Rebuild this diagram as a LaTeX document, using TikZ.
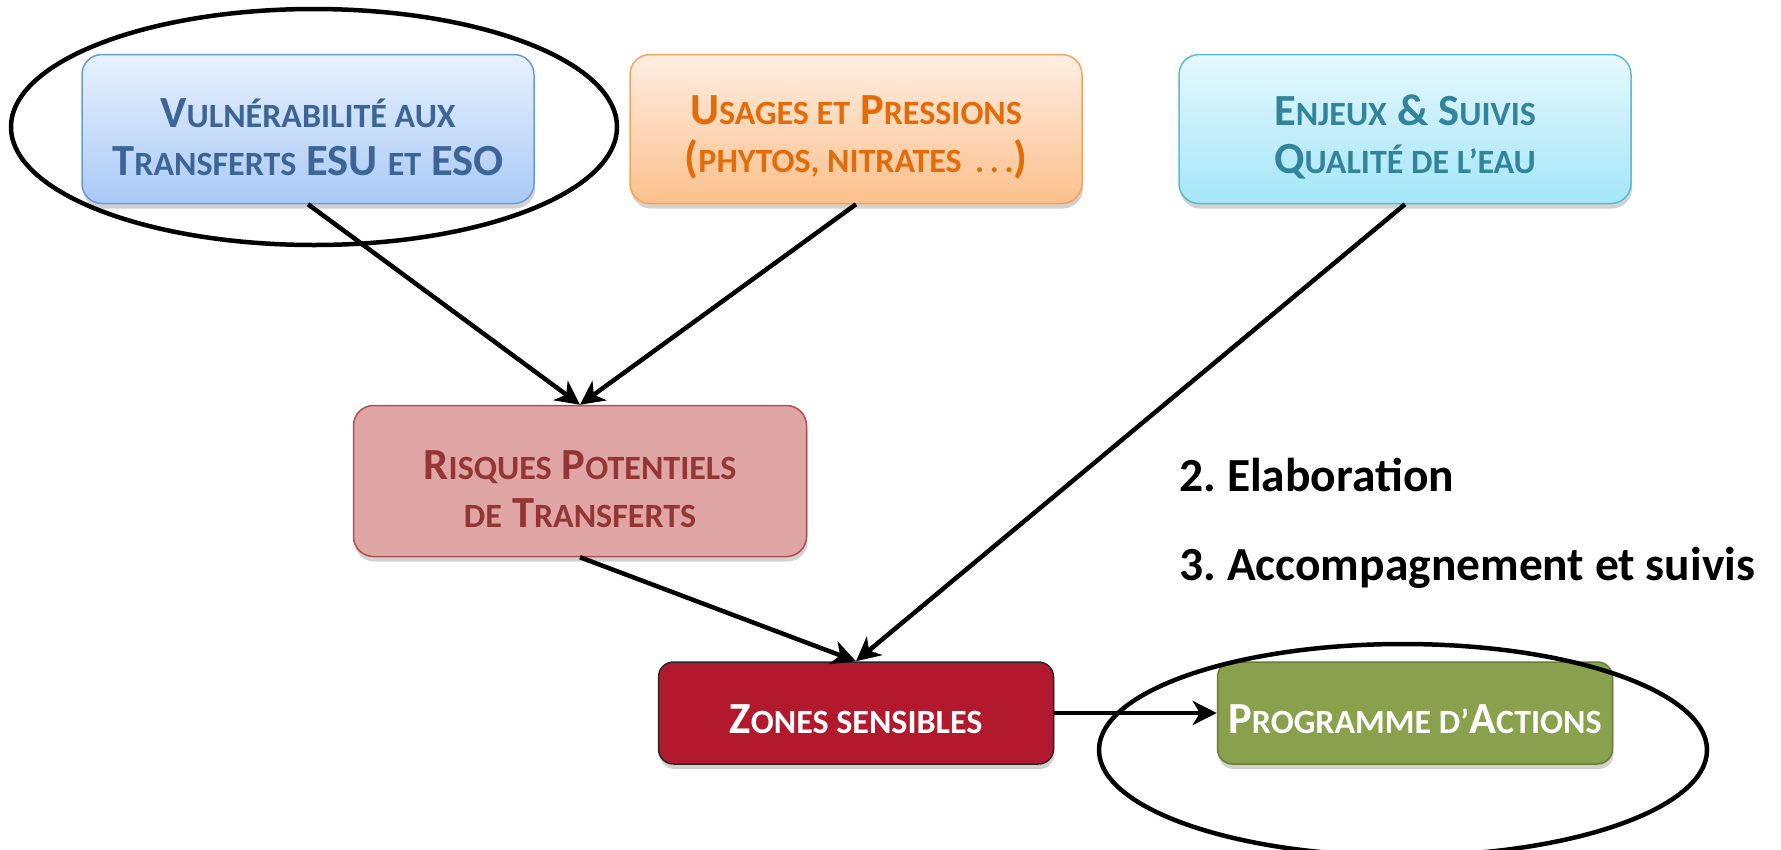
\documentclass[tikz,border=0pt]{standalone}
\usepackage{fontspec}
\setmainfont{Carlito}
\usetikzlibrary{arrows.meta,shadows,shapes.geometric}
\frenchspacing
\definecolor{bTop}{HTML}{E8F1FE}\definecolor{bBot}{HTML}{A9CAF7}\definecolor{bBrd}{HTML}{6A9BD6}\definecolor{bTxt}{HTML}{3C6495}
\definecolor{oTop}{HTML}{FEEEE2}\definecolor{oBot}{HTML}{FBC08C}\definecolor{oBrd}{HTML}{F5A55A}\definecolor{oTxt}{HTML}{E36C09}
\definecolor{cTop}{HTML}{E6F8FE}\definecolor{cBot}{HTML}{A4E6F8}\definecolor{cBrd}{HTML}{5DBAD3}\definecolor{cTxt}{HTML}{31849B}
\definecolor{pFil}{HTML}{E0A6A5}\definecolor{pBrd}{HTML}{B0504D}\definecolor{pTxt}{HTML}{943634}
\definecolor{rFil}{HTML}{B3192D}
\definecolor{gFil}{HTML}{89A14C}\definecolor{gBrd}{HTML}{6A7D38}
\newcommand\Bg[1]{{\fontsize{44.5}{48}\selectfont #1}}
\newcommand\Sm[1]{{\fontsize{34}{48}\selectfont #1}}
\tikzset{
  box/.style={rectangle, rounded corners=20pt, line width=1.5pt, inner sep=0pt,
    drop shadow={opacity=0.35, shadow xshift=1pt, shadow yshift=-5pt}},
  bigbox/.style={box, minimum width=452pt, minimum height=149pt},
  smallbox/.style={box, rounded corners=15pt, minimum width=395pt, minimum height=102pt},
  label/.style={align=center, inner sep=0pt, font=\bfseries\fontsize{44.5}{48}\selectfont},
  arr/.style={line width=4.5pt, -{Stealth[length=24pt,width=24pt,inset=7pt]}},
  ring/.style={ellipse, draw, line width=4.5pt, inner sep=0pt},
  side/.style={anchor=west, font=\bfseries\fontsize{47.5}{55}\selectfont}
}
\begin{document}
\begin{tikzpicture}[x=1pt,y=-1pt]
\useasboundingbox (0,0) rectangle (1781,849);
\fill[white] (0,0) rectangle (1781,849);
% boxes
\node[bigbox, top color=bTop, bottom color=bBot, draw=bBrd] (v) at (308,129) {};
\node[bigbox, top color=oTop, bottom color=oBot, draw=oBrd] (u) at (856,129) {};
\node[bigbox, top color=cTop, bottom color=cBot, draw=cBrd] (e) at (1405,129) {};
\node[bigbox, fill=pFil, draw=pBrd, minimum width=453pt, minimum height=151pt] (r) at (580,481) {};
\node[smallbox, fill=rFil, draw=black!85] (z) at (856,713) {};
\node[smallbox, fill=gFil, draw=gBrd] (p) at (1415,713) {};
% box texts
\node[label, text=bTxt] (vt) at ([yshift=-8pt]v.center)
  {\Bg{V}\Sm{ULNÉRABILITÉ AUX}\\ \Bg{T}\Sm{RANSFERTS} \Bg{ESU} \Sm{ET} \Bg{ESO}};
\node[label, text=oTxt] (ut) at ([yshift=-8pt]u.center)
  {\Bg{U}\Sm{SAGES ET} \Bg{P}\Sm{RESSIONS}\\ \Bg{(}\Sm{PHYTOS, NITRATES \,.\,.\,.}\Bg{)}};
\node[label, text=cTxt] (et) at ([yshift=-8pt]e.center)
  {\Bg{E}\Sm{NJEUX} \Bg{\&} \Bg{S}\Sm{UIVIS}\\ \Bg{Q}\Sm{UALITÉ DE L’EAU}};
\node[label, text=pTxt] (rt) at ([yshift=-8pt]r.center)
  {\Bg{R}\Sm{ISQUES} \Bg{P}\Sm{OTENTIELS}\\ \Sm{DE} \Bg{T}\Sm{RANSFERTS}};
\node[label, text=white] (zt) at ([yshift=-6pt]z.center)
  {\Bg{Z}\Sm{ONES SENSIBLES}};
\node[label, text=white] (pt) at ([yshift=-6pt]p.center)
  {\Bg{P}\Sm{ROGRAMME D’}\Bg{A}\Sm{CTIONS}};
% ellipses
\node[ring, minimum width=606pt, minimum height=236pt] (o1) at (314,127) {};
\node[ring, minimum width=608pt, minimum height=212pt] (o2) at (1403,750) {};
% arrows
\draw[arr] (v.south) -- (r.north);
\draw[arr] (u.south) -- (r.north);
\draw[arr] (e.south) -- (z.north);
\draw[arr] (r.south) -- (z.north);
\draw[arr] (z.east) -- (p.west);
% side texts
\node[side] (t2) at (1176,475) {2. Elaboration};
\node[side] (t3) at (1176,568) {3. Accompagnement et suivis};
\end{tikzpicture}
\end{document}
